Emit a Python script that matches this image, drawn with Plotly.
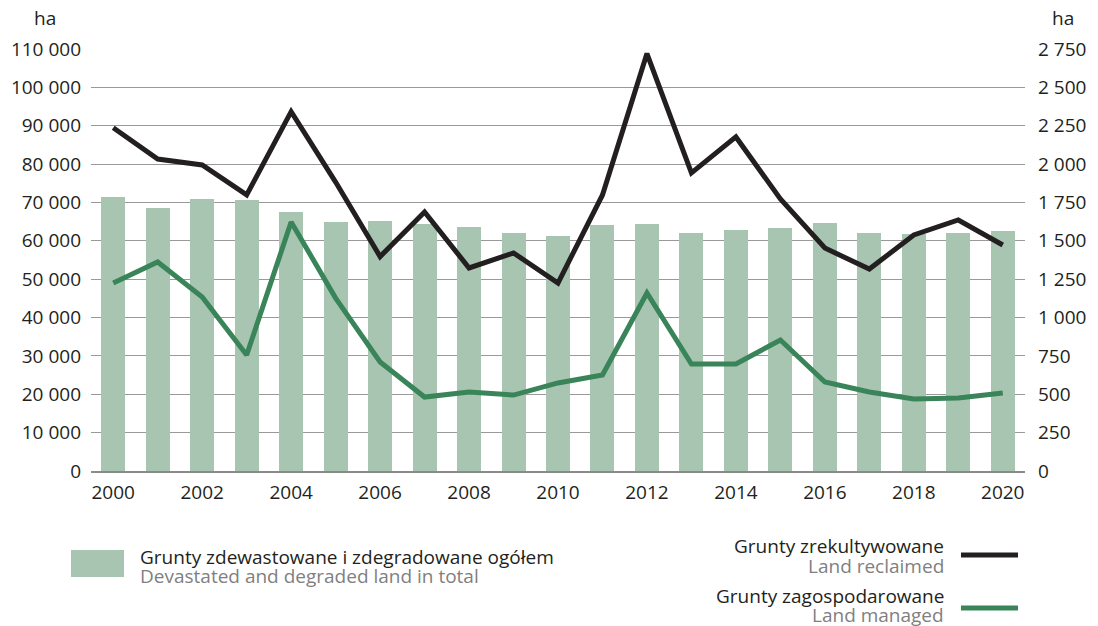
import plotly.graph_objects as go

years = list(range(2000, 2021))
devastated_total = [71400, 68600, 70900, 70600, 67500, 64900, 65200, 64400, 63600, 62000,
                    61300, 64100, 64400, 62000, 62800, 63300, 64700, 62000, 61800, 62000, 62600]
reclaimed = [2237, 2033, 1994, 1799, 2342, 1883, 1397, 1688, 1323, 1421,
             1225, 1799, 2720, 1942, 2177, 1773, 1453, 1316, 1538, 1636, 1473]
managed = [1225, 1362, 1134, 756, 1623, 1127, 710, 482, 515, 495,
           574, 626, 1160, 697, 697, 854, 580, 515, 469, 476, 508]

left_ticks = list(range(0, 110001, 10000))
right_ticks = list(range(0, 2751, 250))
def fmt(v):
    return f"{v:,}".replace(",", " ")

BAR = "#a8c5b1"
GREEN = "#3a845a"
BLACK = "#231f20"
GRID = "#9a9a9a"
FONT = "Open Sans"
FS = 19

fig = go.Figure()
fig.add_trace(go.Bar(x=years, y=devastated_total, marker_color=BAR, width=0.54,
                     marker_line_width=0, yaxis="y", showlegend=False))
fig.add_trace(go.Scatter(x=years, y=reclaimed, mode="lines", yaxis="y2",
                         line=dict(color=BLACK, width=5), showlegend=False))
fig.add_trace(go.Scatter(x=years, y=managed, mode="lines", yaxis="y2",
                         line=dict(color=GREEN, width=5), showlegend=False))

fig.update_layout(
    width=1098, height=626,
    margin=dict(l=91, r=73, t=49, b=155),
    plot_bgcolor="white", paper_bgcolor="white",
    font=dict(family=FONT, size=FS, color=BLACK),
    bargap=0,
    xaxis=dict(range=[1999.5, 2020.5], tickmode="array",
               tickvals=years[::2], ticktext=[str(y) for y in years[::2]],
               showgrid=False, zeroline=False, showline=True,
               linecolor="#8a8a8a", linewidth=2, ticks="", ticklabelstandoff=3),
    yaxis=dict(range=[0, 110000], tickmode="array", tickvals=left_ticks,
               ticktext=[fmt(v) for v in left_ticks], showgrid=True,
               gridcolor=GRID, gridwidth=1.3, zeroline=False, ticks="",
               ticklabelstandoff=9),
    yaxis2=dict(range=[0, 2750], tickmode="array", tickvals=right_ticks,
                ticktext=[fmt(v) for v in right_ticks], overlaying="y", side="right",
                showgrid=False, zeroline=False, ticks="", ticklabelstandoff=12),
    showlegend=False,
)

def px_x(p):
    return (p - 91) / 934
def px_y(p):
    return (471 - p) / 422

ann = []
ann.append(dict(text="ha", x=px_x(45), y=px_y(18)))
ann.append(dict(text="ha", x=px_x(1063), y=px_y(18)))
for a in ann:
    a.update(xref="paper", yref="paper", showarrow=False, xanchor="center", yanchor="middle",
             font=dict(size=FS, color=BLACK))
legend_texts = [
    ("Grunty zdewastowane i zdegradowane ogółem", 138, 557, "left", BLACK),
    ("Devastated and degraded land in total", 138, 576, "left", "#808080"),
    ("Grunty zrekultywowane", 946, 546, "right", BLACK),
    ("Land reclaimed", 946, 566, "right", "#808080"),
    ("Grunty zagospodarowane", 946, 596, "right", BLACK),
    ("Land managed", 946, 615, "right", "#808080"),
]
for t, x, y, anchor, col in legend_texts:
    ann.append(dict(text=t, x=px_x(x), y=px_y(y), xref="paper", yref="paper",
                    showarrow=False, xanchor=anchor, yanchor="middle",
                    font=dict(size=FS, color=col)))
fig.update_layout(annotations=ann)

fig.add_shape(type="rect", xref="paper", yref="paper", x0=px_x(71), x1=px_x(124),
              y0=px_y(577), y1=px_y(550), fillcolor=BAR, line_width=0)
fig.add_shape(type="line", xref="paper", yref="paper", x0=px_x(961), x1=px_x(1018),
              y0=px_y(555), y1=px_y(555), line=dict(color=BLACK, width=5))
fig.add_shape(type="line", xref="paper", yref="paper", x0=px_x(961), x1=px_x(1018),
              y0=px_y(608), y1=px_y(608), line=dict(color=GREEN, width=5))

fig.write_html("out.html", config={"displayModeBar": False},
               post_script="document.body.style.margin='0';")
